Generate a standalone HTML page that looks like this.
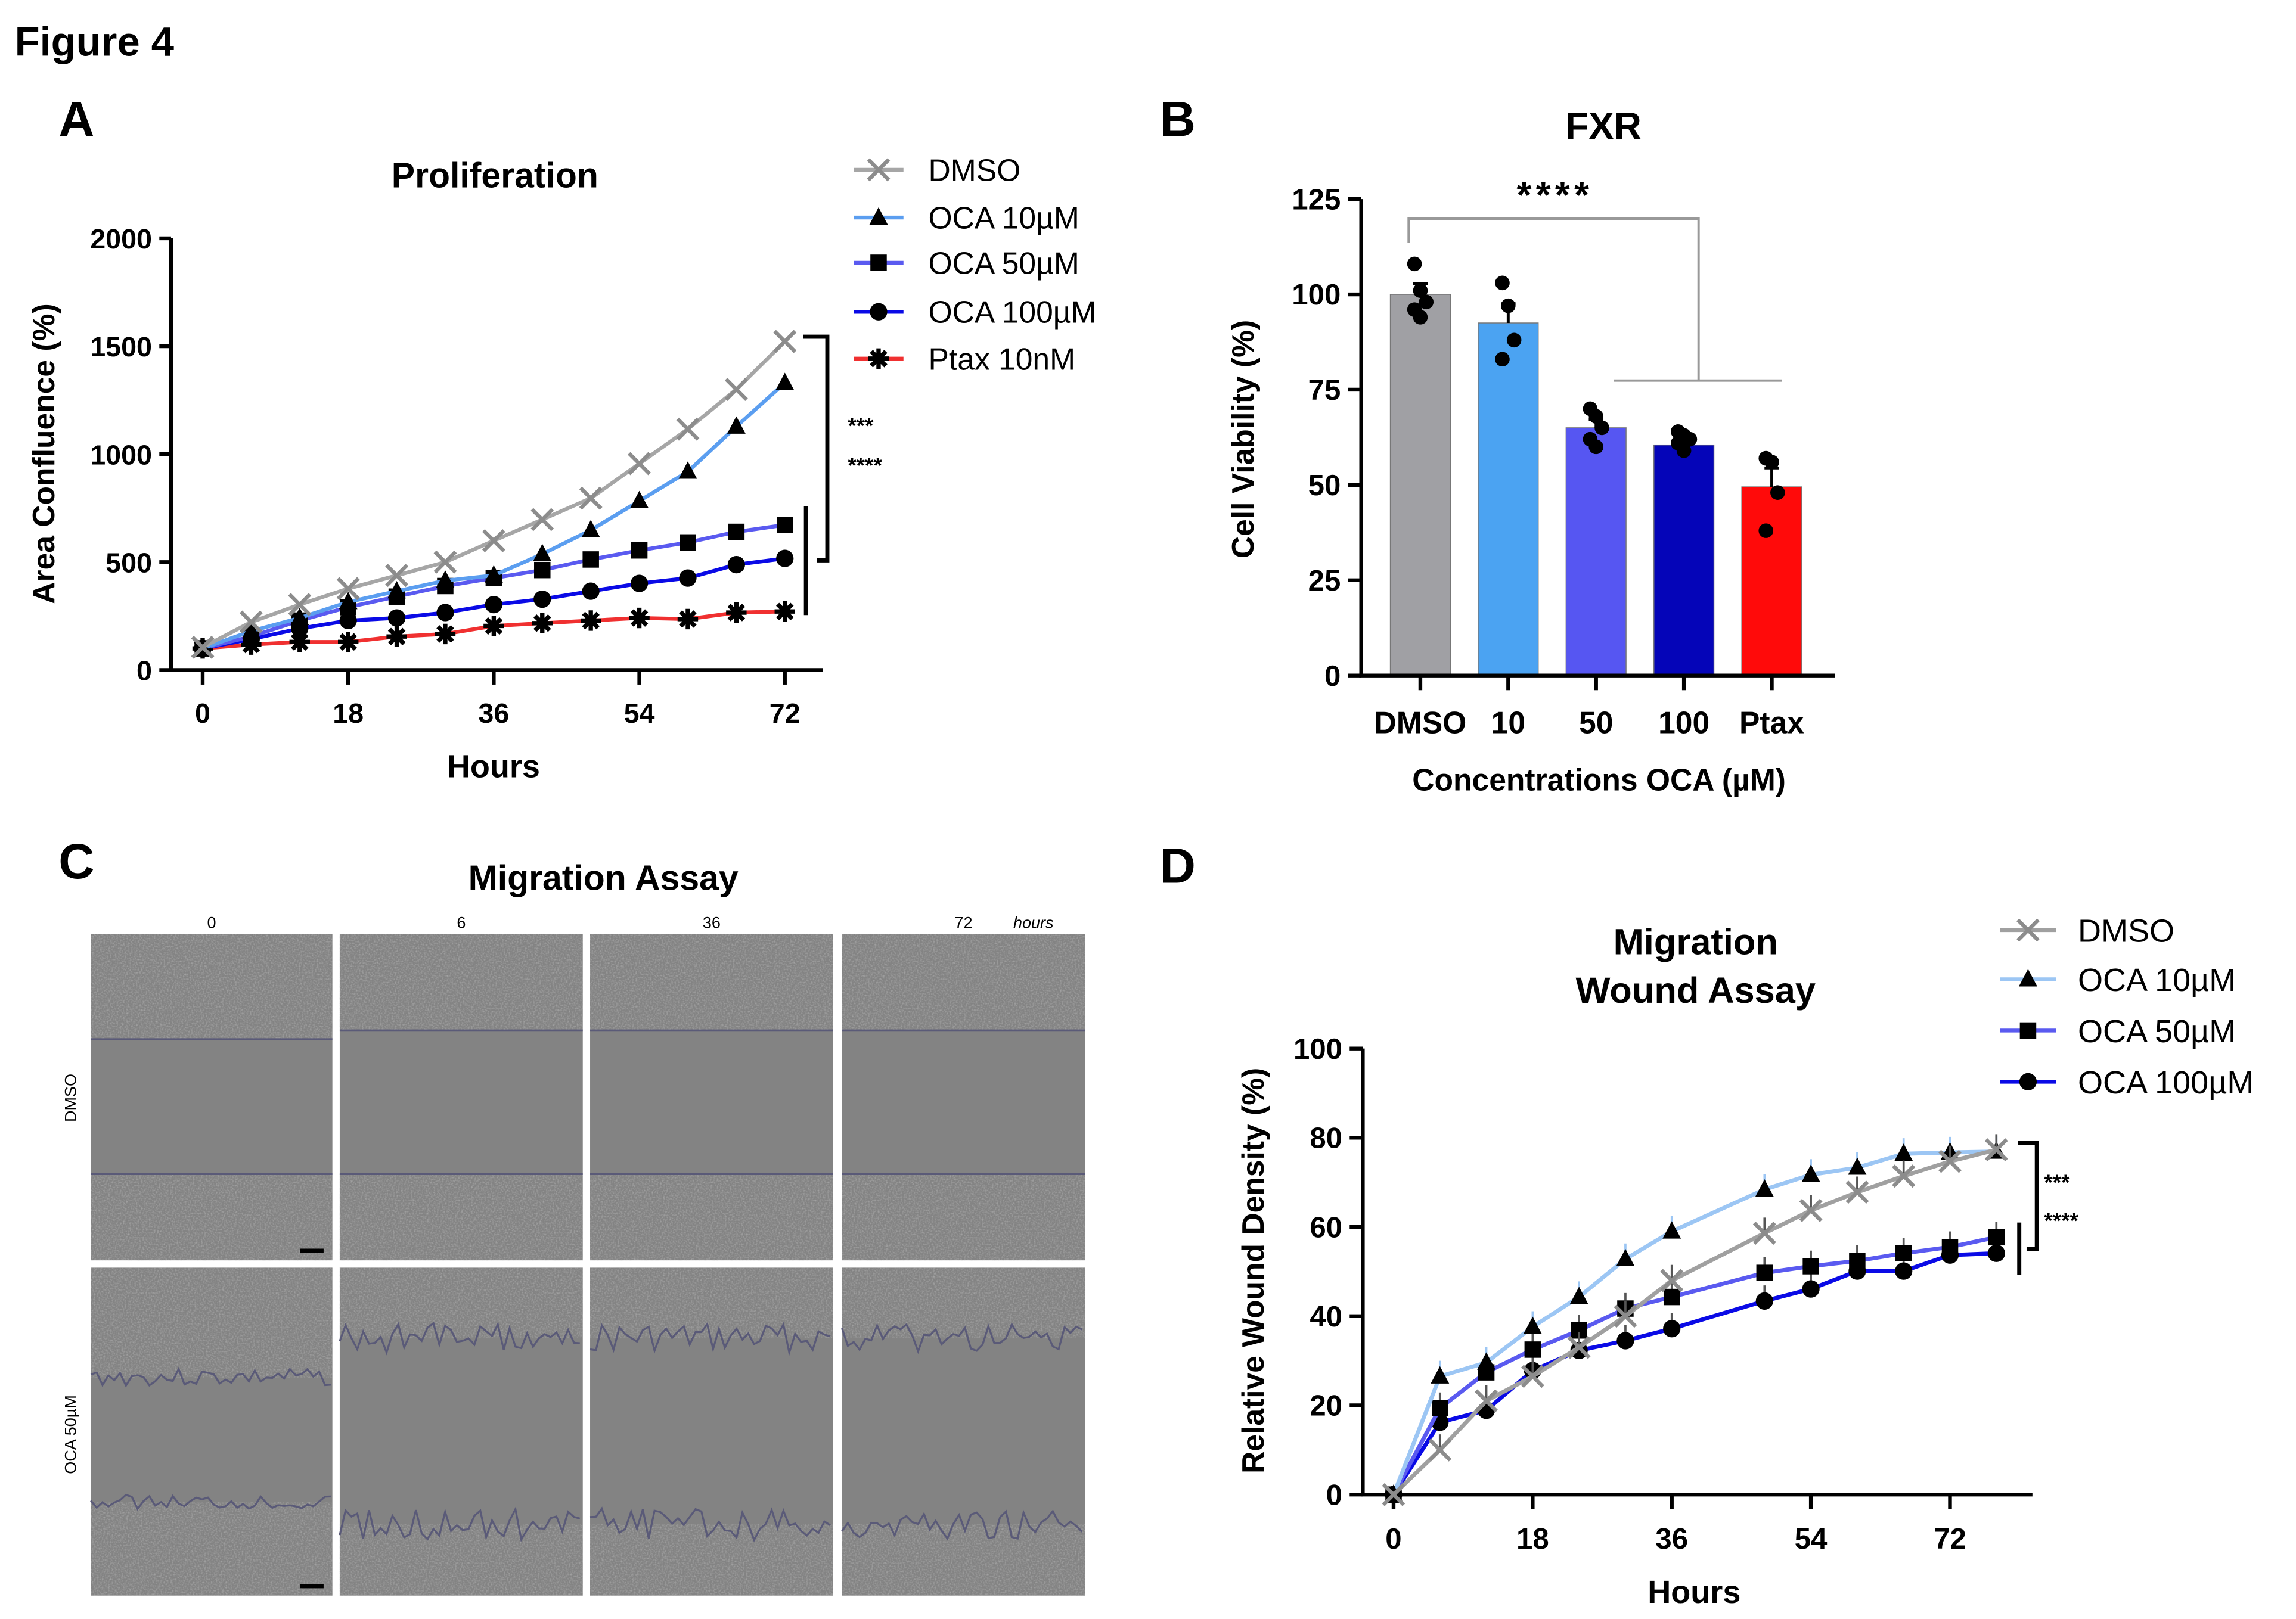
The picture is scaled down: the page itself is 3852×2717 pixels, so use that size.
<!DOCTYPE html>
<html><head><meta charset="utf-8"><style>
html,body{margin:0;padding:0;background:#fff;}
svg{display:block;}
text{font-family:"Liberation Sans",Arial,sans-serif;}
.b{font-weight:bold;}
</style></head><body>
<svg id="fig" width="3852" height="2717" viewBox="0 0 1568 1106" preserveAspectRatio="none" xmlns="http://www.w3.org/2000/svg">
<defs>
<filter id="noise" x="0" y="0" width="100%" height="100%">
<feTurbulence type="fractalNoise" baseFrequency="0.9" numOctaves="2" seed="3" result="t"/>
<feColorMatrix in="t" type="matrix" values="0 0 0 0 0.5  0 0 0 0 0.5  0 0 0 0 0.5  2.2 0 0 0 -0.9" />
</filter>
</defs>
<rect width="1568" height="1106" fill="#fff"/>
<text x="10" y="38" font-size="28" class="b">Figure 4</text>
<text x="40" y="93" font-size="34" class="b">A</text>
<text x="792" y="93" font-size="34" class="b">B</text>
<text x="40" y="600" font-size="34" class="b">C</text>
<text x="792" y="603" font-size="34" class="b">D</text>
<g id="pa"></g>
<g id="pb"></g>
<g id="pc"></g>
<g id="pd"></g>
</svg>
<script>
// ---------- Panel A data ----------
const hoursA = [0,6,12,18,24,30,36,42,48,54,60,66,72];
const seriesNamesA = ["DMSO","OCA 10µM","OCA 50µM","OCA 100µM","Ptax 10nM"];
const dmsoA = [105,222,303,377,438,500,599,697,796,956,1116,1300,1522];
const oca10A = [100,180,241,315,365,414,438,537,648,783,919,1128,1330];
const oca50A = [100,155,229,291,340,389,426,463,512,554,591,640,672];
const oca100A = [100,143,192,229,241,266,303,328,365,401,426,488,517];
const ptaxA = [100,118,130,130,155,167,204,217,229,241,236,266,271];
const yTicksA = [0,500,1000,1500,2000];
const xTicksA = [0,18,36,54,72];
// ---------- Panel B data ----------
const catsB = ["DMSO","10","50","100","Ptax"];
const meansB = [100,92.5,65,60.5,49.5];
const pointsB = [[108,101,98,96,94],[103,97,88,83],[70,68,65,62,60],[64,63,62,61,59],[57,56,48,38]];
const yTicksB = [0,25,50,75,100,125];
// ---------- Panel D data ----------
const hoursD = [0,6,12,18,24,30,36,48,54,60,66,72,78];
const seriesNamesD = ["DMSO","OCA 10µM","OCA 50µM","OCA 100µM"];
const dmsoD = [0,10,21,26.5,33,40,48,58.6,63.7,67.8,71.4,74.7,77.3];
const oca10D = [0,26.5,29.6,37.6,44.3,52.8,59,68.4,71.7,73.3,76.4,76.7,76.9];
const oca50D = [0,19.4,27.4,32.5,36.8,41.7,44.3,49.7,51.2,52.4,54.1,55.5,57.7];
const oca100D = [0,16.2,18.9,27.8,32.3,34.5,37.2,43.4,46.1,50.1,50.1,53.7,54.1];
const yTicksD = [0,20,40,60,80,100];
const xTicksD = [0,18,36,54,72];

const NS="http://www.w3.org/2000/svg";
function mk(parent,tag,attrs,txt){const e=document.createElementNS(NS,tag);for(const k in attrs)e.setAttribute(k,attrs[k]);if(txt!==undefined)e.textContent=txt;parent.appendChild(e);return e;}
function marker(g,type,x,y,s){
  let e;
  if(type==="x"){e=mk(g,"path",{d:`M${x-s},${y-s}L${x+s},${y+s}M${x-s},${y+s}L${x+s},${y-s}`,stroke:"#8c8c8c","stroke-width":2.6,fill:"none"});}
  else if(type==="tri"){e=mk(g,"polygon",{points:`${x},${y-s} ${x-s*0.9},${y+s*0.7} ${x+s*0.9},${y+s*0.7}`,fill:"#000"});}
  else if(type==="sq"){e=mk(g,"rect",{x:x-s*0.8,y:y-s*0.8,width:s*1.6,height:s*1.6,fill:"#000"});}
  else if(type==="circ"){e=mk(g,"circle",{cx:x,cy:y,r:s*0.85,fill:"#000"});}
  else {let d="";for(let i=0;i<4;i++){const a=i*Math.PI/4;d+=`M${x-s*Math.cos(a)},${y-s*Math.sin(a)}L${x+s*Math.cos(a)},${y+s*Math.sin(a)}`;}
    e=mk(g,"path",{d:d,stroke:"#000","stroke-width":3,fill:"none"});}
  return e;
}

// ---------- Panel A ----------
(function(){
  const g=document.getElementById("pa");
  const X0=116.8,Y0=457.7,xOf=h=>138.4+h*(536-138.4)/72,yOf=v=>Y0-v*(Y0-162.8)/2000;
  const t=mk(g,"text",{x:338,y:128,"font-size":24,"text-anchor":"middle",class:"b"},"Proliferation");
  
  
  const ax=mk(g,"path",{d:`M${X0},${yOf(2000)}V${Y0}H562`,stroke:"#000","stroke-width":2.6,fill:"none"});
  
  
  yTicksA.forEach(v=>{mk(g,"line",{x1:X0-8,x2:X0,y1:yOf(v),y2:yOf(v),stroke:"#000","stroke-width":2.6});
    const l=mk(g,"text",{x:X0-13,y:yOf(v)+7,"font-size":19,"text-anchor":"end",class:"b"},String(v));
    
    });
  xTicksA.forEach(v=>{mk(g,"line",{x1:xOf(v),x2:xOf(v),y1:Y0,y2:Y0+10,stroke:"#000","stroke-width":2.6});
    const l=mk(g,"text",{x:xOf(v),y:Y0+36,"font-size":19,"text-anchor":"middle",class:"b"},String(v));
    
    });
  const yt=mk(g,"text",{x:0,y:0,"font-size":21,"text-anchor":"middle",class:"b",transform:"translate(37,310) rotate(-90)"},"Area Confluence (%)");
  
  
  const xt=mk(g,"text",{x:337,y:531,"font-size":22,"text-anchor":"middle",class:"b"},"Hours");
  
  
  const data=[dmsoA,oca10A,oca50A,oca100A,ptaxA],cols=["#a6a6a6","#5b9ef0","#5a5af0","#0a0ae6","#f03030"],mks=["x","tri","sq","circ","star"];
  [4,3,2,1,0].forEach(si=>{
    const s=mk(g,"g",{});
    
    
    mk(s,"polyline",{points:data[si].map((v,i)=>xOf(hoursA[i])+","+yOf(v)).join(" "),fill:"none",stroke:cols[si],"stroke-width":2.6});
    data[si].forEach((v,i)=>{const m=marker(s,mks[si],xOf(hoursA[i]),yOf(v),7);
      
      });
  });
  const ly=[116,148.6,179.5,213,245];
  seriesNamesA.forEach((n,i)=>{
    const le=mk(g,"g",{});
    
    
    mk(le,"line",{x1:583,x2:617,y1:ly[i],y2:ly[i],stroke:cols[i],"stroke-width":2.6});
    marker(le,mks[i],600,ly[i],7);
    mk(le,"text",{x:634,y:ly[i]+7.5,"font-size":21},n);
  });
  const br=mk(g,"path",{d:"M548.5,230H565V382.8H558M550.4,345.7V420.2",stroke:"#000","stroke-width":2.8,fill:"none"});
  
  
  mk(g,"text",{x:579,y:296,"font-size":15,class:"b"},"***");
  mk(g,"text",{x:579,y:323,"font-size":15,class:"b"},"****");
})();

// ---------- Panel B ----------
(function(){
  const g=document.getElementById("pb");
  const X0=929.6,Y0=461.5,yOf=v=>Y0-v*(Y0-136)/125,xOf=i=>970+i*60,bw=41;
  const t=mk(g,"text",{x:1095,y:95,"font-size":26,"text-anchor":"middle",class:"b"},"FXR");
  
  
  const cols=["#a0a0a4","#4ba3f2","#5656f2","#0505b8","#ff0a0a"];
  meansB.forEach((v,i)=>{
    const r=mk(g,"rect",{x:xOf(i)-bw/2,y:yOf(v),width:bw,height:Y0-yOf(v),fill:cols[i],stroke:"#777","stroke-width":0.6});
    
    
    const sd=Math.sqrt(pointsB[i].reduce((a,p)=>a+(p-v)*(p-v),0)/pointsB[i].length)/Math.sqrt(pointsB[i].length);
    mk(g,"line",{x1:xOf(i),x2:xOf(i),y1:yOf(v),y2:yOf(v+sd*1.3),stroke:"#000","stroke-width":2});
    mk(g,"line",{x1:xOf(i)-5,x2:xOf(i)+5,y1:yOf(v+sd*1.3),y2:yOf(v+sd*1.3),stroke:"#000","stroke-width":2});
    pointsB[i].forEach((p,j)=>{const c=mk(g,"circle",{cx:xOf(i)+((j%3)-1)*4,cy:yOf(p),r:5,fill:"#000"});
      
      });
    mk(g,"line",{x1:xOf(i),x2:xOf(i),y1:Y0,y2:Y0+10,stroke:"#000","stroke-width":2.6});
    const l=mk(g,"text",{x:xOf(i),y:501,"font-size":21,"text-anchor":"middle",class:"b"},catsB[i]);
    
    
  });
  const ax=mk(g,"path",{d:`M${X0},${yOf(125)}V${Y0}H1253`,stroke:"#000","stroke-width":2.6,fill:"none"});
  
  
  yTicksB.forEach(v=>{mk(g,"line",{x1:X0-9,x2:X0,y1:yOf(v),y2:yOf(v),stroke:"#000","stroke-width":2.6});
    const l=mk(g,"text",{x:X0-14,y:yOf(v)+7,"font-size":20,"text-anchor":"end",class:"b"},String(v));
    
    });
  const yt=mk(g,"text",{x:0,y:0,"font-size":21,"text-anchor":"middle",class:"b",transform:"translate(856,300) rotate(-90)"},"Cell Viability (%)");
  
  
  const xt=mk(g,"text",{x:1092,y:540,"font-size":21,"text-anchor":"middle",class:"b"},"Concentrations OCA (µM)");
  
  
  const br=mk(g,"path",{d:"M962,166V149.4H1160V260M1102,260H1217",stroke:"#999","stroke-width":1.6,fill:"none"});
  
  
  mk(g,"text",{x:1062,y:142,"font-size":26,"text-anchor":"middle",class:"b","letter-spacing":"3"},"****");
})();

// ---------- Panel C ----------
(function(){
  const g=document.getElementById("pc");
  const t=mk(g,"text",{x:412,y:608,"font-size":24,"text-anchor":"middle",class:"b"},"Migration Assay");
  
  
  const cx=[[62,227],[232,398],[403,569],[575,741]],ry=[[638,861],[866,1090]],tl=["0","6","36","72"];
  tl.forEach((s,i)=>{mk(g,"text",{x:(cx[i][0]+cx[i][1])/2,y:634,"font-size":11,"text-anchor":"middle"},s);});
  mk(g,"text",{x:692,y:634,"font-size":11,"font-style":"italic"},"hours");
  const r1=mk(g,"text",{x:0,y:0,"font-size":11,"text-anchor":"middle",transform:"translate(52,750) rotate(-90)"},"DMSO");
  
  
  const r2=mk(g,"text",{x:0,y:0,"font-size":11,"text-anchor":"middle",transform:"translate(52,980) rotate(-90)"},"OCA 50µM");
  
  
  const wav=(x0,x1,yb,amp,seed)=>{let p=[];let s=seed;for(let x=x0;x<=x1;x+=4){s=(s*9301+49297)%233280;p.push(x+","+(yb+(s/233280-0.5)*amp));}return p.join(" ");};
  for(let r=0;r<2;r++)for(let c=0;c<4;c++){
    const [x0,x1]=cx[c],[y0,y1]=ry[r],w=x1-x0,h=y1-y0;
    const im=mk(g,"g",{});
    
    
    mk(im,"rect",{x:x0,y:y0,width:w,height:h,fill:"#838383"});
    let top,bot;
    if(r===0){top=c===0?y0+72:y0+66;bot=y0+164;}
    else {top=c===0?y0+75:y0+48;bot=c===0?y0+160:y0+175;}
    mk(im,"rect",{x:x0,y:y0,width:w,height:top-y0,filter:"url(#noise)",opacity:0.55});
    mk(im,"rect",{x:x0,y:bot,width:w,height:y1-bot,filter:"url(#noise)",opacity:0.55});
    if(r===0){
      mk(im,"line",{x1:x0,x2:x1,y1:top,y2:top,stroke:"#5a5a78","stroke-width":1.5});
      mk(im,"line",{x1:x0,x2:x1,y1:bot,y2:bot,stroke:"#5a5a78","stroke-width":1.5});
    } else {
      mk(im,"polyline",{points:wav(x0,x1,top,c?20:12,c*7+3),fill:"none",stroke:"#5a5a78","stroke-width":1.3});
      mk(im,"polyline",{points:wav(x0,x1,bot,c?22:10,c*11+5),fill:"none",stroke:"#5a5a78","stroke-width":1.3});
    }
    if(c===0)mk(im,"rect",{x:x1-22,y:y1-8,width:16,height:3,fill:"#000"});
  }
})();

// ---------- Panel D ----------
(function(){
  const g=document.getElementById("pd");
  const X0=930.7,Y0=1021,xOf=h=>951.7+h*(1331.7-951.7)/72,yOf=v=>Y0-v*(Y0-716.3)/100;
  const t1=mk(g,"text",{x:1158,y:652,"font-size":25,"text-anchor":"middle",class:"b"},"Migration");
  
  
  mk(g,"text",{x:1158,y:685,"font-size":25,"text-anchor":"middle",class:"b"},"Wound Assay");
  const ax=mk(g,"path",{d:`M${X0},${yOf(100)}V${Y0}H1388`,stroke:"#000","stroke-width":2.6,fill:"none"});
  
  
  yTicksD.forEach(v=>{mk(g,"line",{x1:X0-9,x2:X0,y1:yOf(v),y2:yOf(v),stroke:"#000","stroke-width":2.6});
    const l=mk(g,"text",{x:X0-14,y:yOf(v)+7,"font-size":20,"text-anchor":"end",class:"b"},String(v));
    
    });
  xTicksD.forEach(v=>{mk(g,"line",{x1:xOf(v),x2:xOf(v),y1:Y0,y2:Y0+10,stroke:"#000","stroke-width":2.6});
    const l=mk(g,"text",{x:xOf(v),y:Y0+37,"font-size":20,"text-anchor":"middle",class:"b"},String(v));
    
    });
  const yt=mk(g,"text",{x:0,y:0,"font-size":21,"text-anchor":"middle",class:"b",transform:"translate(863,868) rotate(-90)"},"Relative Wound Density (%)");
  
  
  const xt=mk(g,"text",{x:1157,y:1095,"font-size":22,"text-anchor":"middle",class:"b"},"Hours");
  
  
  const data=[dmsoD,oca10D,oca50D,oca100D],cols=["#a0a0a0","#9cc6f4","#5a5af0","#0a0ae6"],mks=["x","tri","sq","circ"];
  [3,2,1,0].forEach(si=>{
    const s=mk(g,"g",{});
    
    
    mk(s,"polyline",{points:data[si].map((v,i)=>xOf(hoursD[i])+","+yOf(v)).join(" "),fill:"none",stroke:cols[si],"stroke-width":2.8});
    data[si].forEach((v,i)=>{
      if(i>0){mk(s,"line",{x1:xOf(hoursD[i]),x2:xOf(hoursD[i]),y1:yOf(v),y2:yOf(v+3.5),stroke:si===1?"#9cc6f4":"#555","stroke-width":1.5});}
      const m=marker(s,mks[si],xOf(hoursD[i]),yOf(v),7);
      
      });
  });
  const ly=[635.4,669,704,739];
  seriesNamesD.forEach((n,i)=>{
    const le=mk(g,"g",{});
    
    
    mk(le,"line",{x1:1366,x2:1404,y1:ly[i],y2:ly[i],stroke:cols[i],"stroke-width":2.6});
    marker(le,mks[i],1385,ly[i],7);
    mk(le,"text",{x:1419,y:ly[i]+8,"font-size":22},n);
  });
  const br=mk(g,"path",{d:`M1378,${yOf(78.9)}H1391V${yOf(55)}H1384M1379,${yOf(61)}V${yOf(49.2)}`,stroke:"#000","stroke-width":2.8,fill:"none"});
  
  
  mk(g,"text",{x:1396,y:813,"font-size":15,class:"b"},"***");
  mk(g,"text",{x:1396,y:839,"font-size":15,class:"b"},"****");
})();
</script>
</body></html>
